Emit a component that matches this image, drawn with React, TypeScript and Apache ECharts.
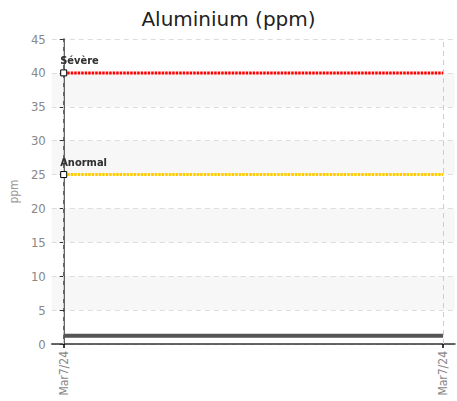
import React, { useEffect, useRef } from "react";
import * as echarts from "echarts";

const categories = ["Mar7/24", "Mar7/24"];
const aluminiumValues = [1.2, 1.2];
const severeValues = [40, 40];
const anormalValues = [25, 25];
const thresholdNames = ["Sévère", "Anormal"];
const yTicks = [0, 45, 5];

const condensed = "'DejaVu Sans Condensed', 'Liberation Sans Narrow', sans-serif";

function thresholdSeries(name: string, values: number[], color: string) {
  return {
    type: "line",
    name,
    data: values.map((v, i) =>
      i === 0
        ? {
            value: [i, v],
            symbol: "rect",
            symbolSize: 6,
            label: {
              show: true,
              formatter: name,
              position: [0, -14],
              align: "left",
              fontFamily: condensed,
              fontSize: 11,
              fontWeight: "bold",
              color: "#333",
              textShadowColor: "rgba(0,0,0,0.2)",
              textShadowBlur: 1,
            },
          }
        : { value: [i, v], symbol: "none" }
    ),
    showSymbol: true,
    itemStyle: { color: "#fff", borderColor: "#000", borderWidth: 1 },
    lineStyle: { color, width: 3, type: [2.5, 1] },
    z: 3,
    silent: true,
  };
}

export default function App() {
  const ref = useRef<HTMLDivElement>(null);
  useEffect(() => {
    document.body.style.margin = "0";
    const chart = echarts.init(ref.current!, null, { renderer: "svg" });
    const m = 12 / 382;
    chart.setOption({
      animation: false,
      title: {
        text: "Aluminium (ppm)",
        left: "center",
        top: 4,
        textStyle: { fontFamily: "'DejaVu Sans', sans-serif", fontSize: 20, fontWeight: "normal", color: "#222" },
      },
      grid: { left: 49, right: 2, top: 39, bottom: 57, containLabel: false },
      xAxis: {
        type: "value",
        min: -m,
        max: 1 + m,
        axisLine: { show: true, lineStyle: { color: "#333", width: 1.5 } },
        axisTick: { show: true, customValues: [0, 1], length: 4, lineStyle: { color: "#000", width: 1.5 } },
        axisLabel: {
          customValues: [0, 1],
          rotate: 90,
          formatter: (v: number) => categories[Math.round(v)] ?? "",
          fontFamily: condensed,
          fontSize: 12,
          color: "#888",
          margin: 7,
        },
        splitLine: { show: false },
      },
      yAxis: {
        type: "value",
        min: yTicks[0],
        max: yTicks[1],
        interval: yTicks[2],
        name: "ppm",
        nameLocation: "middle",
        nameGap: 26,
        nameTextStyle: { fontFamily: condensed, fontSize: 12, color: "#999" },
        axisLine: { show: true, lineStyle: { color: "#333", width: 1.5 } },
        axisTick: { show: true, length: 4, lineStyle: { color: "#333" } },
        axisLabel: { fontFamily: condensed, fontSize: 13, color: "#888", margin: 6 },
        splitLine: { show: true, lineStyle: { color: "#ddd", type: [5, 4] } },
        splitArea: { show: true, areaStyle: { color: ["rgba(255,255,255,0)", "#f7f7f7"] } },
      },
      series: [
        {
          type: "line",
          name: "Aluminium",
          data: aluminiumValues.map((v, i) => [i, v]),
          showSymbol: false,
          lineStyle: { color: "#555", width: 4 },
          z: 2,
          silent: true,
          markLine: {
            silent: true,
            symbol: "none",
            label: { show: false },
            lineStyle: { color: "#ccc", type: [5, 4], width: 1 },
            data: categories.map((_, i) => ({ xAxis: i })),
            z: 1,
          },
        },
        thresholdSeries(thresholdNames[0], severeValues, "#ff0000"),
        thresholdSeries(thresholdNames[1], anormalValues, "#ffcc00"),
      ],
    });
    return () => chart.dispose();
  }, []);
  return <div ref={ref} style={{ width: 457, height: 401 }} />;
}
